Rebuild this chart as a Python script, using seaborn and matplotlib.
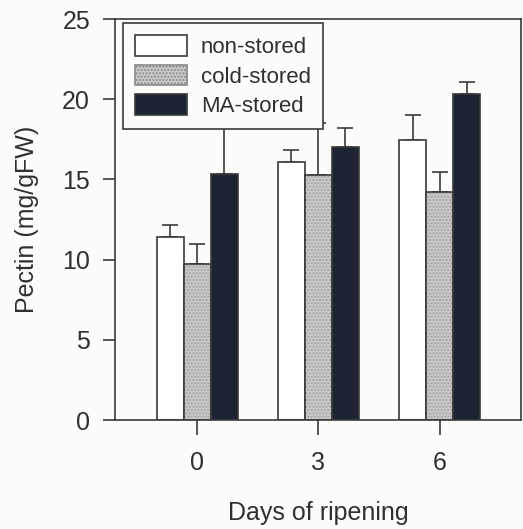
import matplotlib
matplotlib.use("Agg")
import matplotlib.pyplot as plt
from matplotlib.patches import Rectangle
import seaborn as sns
import pandas as pd

days = ["0", "3", "6"]
treatments = ["non-stored", "cold-stored", "MA-stored"]
non_stored = [11.4, 16.1, 17.45]
cold_stored = [9.75, 15.3, 14.2]
ma_stored = [15.35, 17.0, 20.3]
non_stored_err = [0.75, 0.75, 1.55]
cold_stored_err = [1.2, 3.2, 1.25]
ma_stored_err = [3.3, 1.2, 0.8]

values = {"non-stored": non_stored, "cold-stored": cold_stored, "MA-stored": ma_stored}
errors = {"non-stored": non_stored_err, "cold-stored": cold_stored_err, "MA-stored": ma_stored_err}

rows = []
for t in treatments:
    for d, v, e in zip(days, values[t], errors[t]):
        rows.append({"day": d, "treatment": t, "pectin": v, "err": e})
df = pd.DataFrame(rows)

sns.set_theme(style="white")
plt.rcParams["font.family"] = ["Liberation Sans", "DejaVu Sans"]

edge = "#3a3a3a"
text_c = "#303030"
fills = {"non-stored": "#ffffff", "cold-stored": "#c9c9c9", "MA-stored": "#1d2331"}

fig = plt.figure(figsize=(5.23, 5.29), dpi=100)
fig.patch.set_facecolor("#fcfcfa")
ax = fig.add_axes([0.22, 0.206, 0.776, 0.758])
ax.set_facecolor("#fcfcfa")

sns.barplot(data=df, x="day", y="pectin", hue="treatment", order=days,
            hue_order=treatments, palette=fills, width=0.667, errorbar=None,
            saturation=1, edgecolor=edge, linewidth=1.2, ax=ax, zorder=2)

for t, cont in zip(treatments, ax.containers):
    for bar, e in zip(cont, errors[t]):
        xc = bar.get_x() + bar.get_width() / 2
        top = bar.get_height()
        ax.errorbar(xc, top, yerr=[[0], [e]], fmt="none", ecolor=edge,
                    elinewidth=1.2, capsize=6, capthick=1.2, zorder=1)
        if t == "cold-stored":
            # stippled texture on the grey bars, outline redrawn on top
            bar.set_hatch(".....")
            bar.set_edgecolor("#a2a2a2")
            bar.set_linewidth(0)
            ax.add_patch(Rectangle((bar.get_x(), bar.get_y()), bar.get_width(),
                                   bar.get_height(), fill=False,
                                   edgecolor=edge, linewidth=1.2, zorder=2.1))

ax.set_ylim(0, 25)
ax.set_xlim(-0.675, 2.667)
ax.set_yticks([0, 5, 10, 15, 20, 25])
ax.set_xlabel("Days of ripening", fontsize=18, color=text_c, labelpad=19)
ax.set_ylabel("Pectin (mg/gFW)", fontsize=18, color=text_c, labelpad=17)
ax.tick_params(axis="y", direction="out", length=9, width=1.2, color=edge,
               labelsize=18, labelcolor=text_c, pad=9, left=True)
ax.tick_params(axis="x", direction="out", length=11, width=1.2, color=edge,
               labelsize=18, labelcolor=text_c, pad=11, bottom=True)
for s in ax.spines.values():
    s.set_visible(True)
    s.set_color(edge)
    s.set_linewidth(1.2)

handles, labels = ax.get_legend_handles_labels()
for h in handles:
    if h.get_label() == "cold-stored":
        h.set_hatch(".....")
        h.set_edgecolor("#8a8a8a")
leg = ax.legend(handles, labels, loc="upper left", bbox_to_anchor=(0.02, 0.99),
                fontsize=16, frameon=True, fancybox=False, handlelength=2.3,
                handleheight=1.05, handletextpad=0.65, labelspacing=0.3,
                borderpad=0.55, borderaxespad=0)
leg.get_frame().set_edgecolor(edge)
leg.get_frame().set_linewidth(1.2)
leg.get_frame().set_facecolor("#fcfcfa")
leg.get_frame().set_alpha(1)
leg.set_zorder(5)
for txt in leg.get_texts():
    txt.set_color(text_c)

fig.savefig("out.png", dpi=100)
